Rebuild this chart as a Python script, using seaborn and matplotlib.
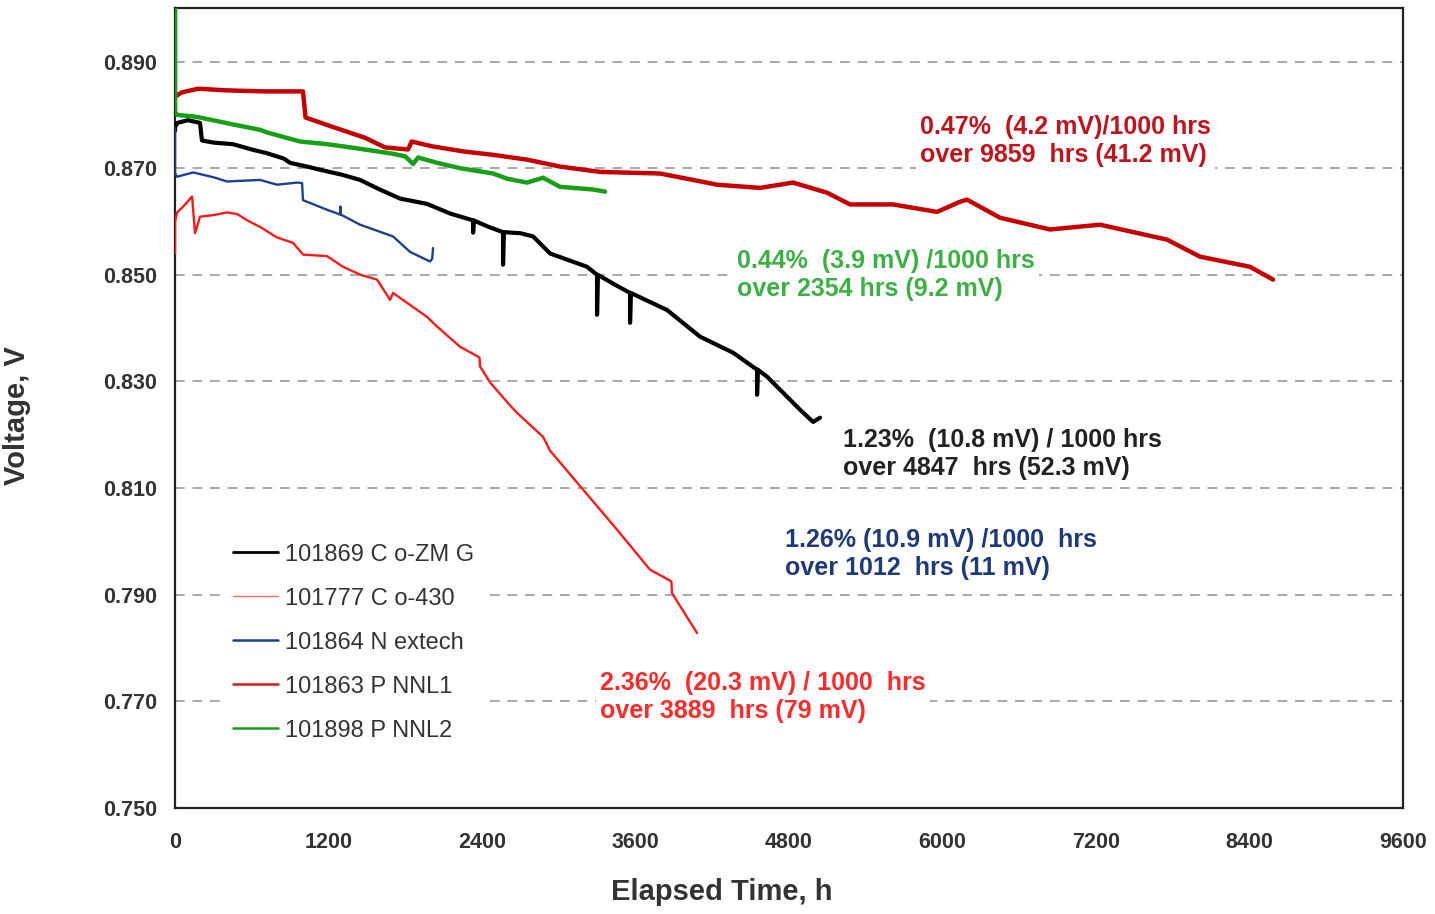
import matplotlib
matplotlib.use("Agg")
import matplotlib.pyplot as plt
from matplotlib.lines import Line2D
import seaborn as sns
import pandas as pd

# ---------------- data ----------------
zmg_h = [0, 0, 20, 100, 195, 210, 300, 453, 600, 719, 850, 899, 1032, 1134, 1300, 1446,
         1600, 1759, 1970, 2150, 2330, 2330, 2335, 2450, 2564, 2564, 2570, 2700, 2799, 2932,
         3221, 3299, 3299, 3305, 3450, 3557, 3557, 3563, 3846, 4104, 4362, 4550, 4550, 4556,
         4628, 4886, 4988, 5042]
zmg_v = [0.8770, 0.8778, 0.8785, 0.8790, 0.8785, 0.8752, 0.8748, 0.8745, 0.8735, 0.8728,
         0.8718, 0.8710, 0.8703, 0.8697, 0.8688, 0.8678, 0.8660, 0.8643, 0.8633, 0.8615,
         0.8602, 0.8579, 0.8602, 0.8590, 0.8580, 0.8519, 0.8580, 0.8578, 0.8572, 0.8540,
         0.8515, 0.8500, 0.8425, 0.8500, 0.8480, 0.8466, 0.8410, 0.8466, 0.8434, 0.8384,
         0.8354, 0.8322, 0.8275, 0.8322, 0.8309, 0.8247, 0.8224, 0.8232]

co430_h = [0, 0, 16, 63, 133, 156, 195, 300, 406, 485, 580, 664, 797, 922, 1001, 1188,
           1313, 1450, 1579, 1681, 1704, 1970, 2048, 2228, 2380, 2384, 2463, 2619, 2674,
           2877, 2932, 3190, 3455, 3713, 3880, 3885, 4081]
co430_v = [0.8540, 0.8600, 0.8617, 0.8628, 0.8647, 0.8578, 0.8609, 0.8612, 0.8617, 0.8614,
           0.8600, 0.8590, 0.8570, 0.8560, 0.8538, 0.8535, 0.8515, 0.8500, 0.8491, 0.8453,
           0.8466, 0.8421, 0.8403, 0.8365, 0.8345, 0.8328, 0.8298, 0.8255, 0.8241, 0.8196,
           0.8170, 0.8097, 0.8022, 0.7947, 0.7925, 0.7903, 0.7828]

nextech_h = [0, 0, 16, 141, 300, 406, 664, 797, 954, 993, 1000, 1188, 1290, 1292, 1296,
             1446, 1704, 1837, 1993, 2010, 2017]
nextech_v = [0.8775, 0.8690, 0.8684, 0.8692, 0.8683, 0.8675, 0.8678, 0.8669, 0.8673,
             0.8672, 0.8640, 0.8622, 0.8613, 0.8628, 0.8613, 0.8594, 0.8572, 0.8543,
             0.8525, 0.8530, 0.8550]

pnnl1_h = [0, 50, 180, 400, 700, 1000, 1020, 1225, 1485, 1641, 1821, 1850, 2009, 2267,
           2486, 2752, 3010, 3322, 3791, 4049, 4237, 4573, 4831, 5097, 5277, 5613, 5957,
           6137, 6191, 6450, 6840, 7231, 7755, 8013, 8404, 8584]
pnnl1_v = [0.8834, 0.8842, 0.8849, 0.8846, 0.8844, 0.8844, 0.8795, 0.8778, 0.8757,
           0.8739, 0.8735, 0.8750, 0.8741, 0.8731, 0.8725, 0.8716, 0.8703, 0.8693, 0.8690,
           0.8678, 0.8669, 0.8663, 0.8673, 0.8654, 0.8632, 0.8632, 0.8618, 0.8637, 0.8641,
           0.8607, 0.8585, 0.8594, 0.8566, 0.8534, 0.8515, 0.8491]

pnnl2_h = [0, 0, 16, 141, 195, 453, 664, 719, 977, 1188, 1400, 1704, 1800, 1861, 1900,
           2050, 2228, 2486, 2600, 2752, 2877, 3010, 3268, 3362]
pnnl2_v = [0.9000, 0.8805, 0.8800, 0.8797, 0.8795, 0.8782, 0.8772, 0.8767, 0.8750,
           0.8745, 0.8738, 0.8727, 0.8722, 0.8708, 0.8720, 0.8710, 0.8700, 0.8690, 0.8680,
           0.8673, 0.8682, 0.8665, 0.8660, 0.8656]

series_names = ["101869 C o-ZM G", "101777 C o-430", "101864 N extech",
                "101863 P NNL1", "101898 P NNL2"]

x_ticks = [0, 1200, 2400, 3600, 4800, 6000, 7200, 8400, 9600]
y_ticks = [0.750, 0.770, 0.790, 0.810, 0.830, 0.850, 0.870, 0.890]

annotations = [
    (5824, 0.8751, "0.47%  (4.2 mV)/1000 hrs\nover 9859  hrs (41.2 mV)", "#c0141c"),
    (4393, 0.8500, "0.44%  (3.9 mV) /1000 hrs\nover 2354 hrs (9.2 mV)", "#3cb043"),
    (5222, 0.8164, "1.23%  (10.8 mV) / 1000 hrs\nover 4847  hrs (52.3 mV)", "#222222"),
    (4769, 0.7977, "1.26% (10.9 mV) /1000  hrs\nover 1012  hrs (11 mV)", "#1f3a7a"),
    (3322, 0.7708, "2.36%  (20.3 mV) / 1000  hrs\nover 3889  hrs (79 mV)", "#ff2a2a"),
]

# ---------------- plotting ----------------
sns.set_theme(style="white")
plt.rcParams["font.family"] = ["Liberation Sans", "DejaVu Sans"]

fig = plt.figure(figsize=(14.35, 9.14), dpi=100)
ax = fig.add_axes([0.122, 0.116, 0.8557, 0.875])

styles = [
    (zmg_h, zmg_v, "#000000", 3.0),
    (co430_h, co430_v, "#ff1a1a", 1.7),
    (nextech_h, nextech_v, "#1f3f8f", 1.7),
    (pnnl1_h, pnnl1_v, "#c40000", 3.2),
    (pnnl2_h, pnnl2_v, "#16a016", 3.2),
]
for h, v, c, lw in styles:
    df = pd.DataFrame({"h": h, "v": v})
    sns.lineplot(data=df, x="h", y="v", color=c, linewidth=lw, estimator=None,
                 sort=False, ax=ax, legend=False, zorder=4)

ax.set_xlim(0, 9600)
ax.set_ylim(0.750, 0.900)
ax.set_xticks(x_ticks)
ax.set_yticks(y_ticks)
ax.set_yticklabels([f"{t:.3f}" for t in y_ticks])

for t in y_ticks[1:]:
    ax.axhline(t, color="#a8a8a8", linewidth=1.4, linestyle=(0, (5, 4)), zorder=1)

for s in ax.spines.values():
    s.set_color("#222222")
    s.set_linewidth(1.6)
    s.set_zorder(2)

ax.tick_params(axis="both", direction="out", length=6, width=1.4, color="#222222",
               labelsize=15.5, labelcolor="#333333", pad=7)
ax.tick_params(axis="x", pad=11)
for lab in ax.get_xticklabels() + ax.get_yticklabels():
    lab.set_fontweight("bold")

ax.set_xlabel("Elapsed Time, h", fontsize=21, fontweight="bold", color="#333333")
ax.xaxis.set_label_coords(0.445, -0.088)
ax.set_ylabel("Voltage, V", fontsize=21, fontweight="bold", color="#333333")
ax.yaxis.set_label_coords(-0.117, 0.49)

for x, y, txt, c in annotations:
    ax.text(x, y, txt, color=c, fontsize=18, fontweight="bold", ha="left",
            va="center", linespacing=1.2, zorder=3,
            bbox=dict(facecolor="white", edgecolor="none", pad=3))

handle_colors = ["#000000", "#f07070", "#1f3f8f", "#d02020", "#16a016"]
handle_lw = [2.0, 1.0, 1.8, 1.8, 1.8]
handles = [Line2D([0], [0], color=c, lw=w) for c, w in zip(handle_colors, handle_lw)]
leg = ax.legend(handles, series_names, loc="upper left",
                bbox_to_anchor=(0.028, 0.36), frameon=True, fontsize=17,
                handlelength=1.9, handletextpad=0.3, labelspacing=0.93,
                borderpad=0.5)
leg.get_frame().set_facecolor("white")
leg.get_frame().set_edgecolor("none")
leg.get_frame().set_alpha(1)
leg.set_zorder(5)
for t in leg.get_texts():
    t.set_color("#333333")

fig.savefig("out.png", dpi=100)
